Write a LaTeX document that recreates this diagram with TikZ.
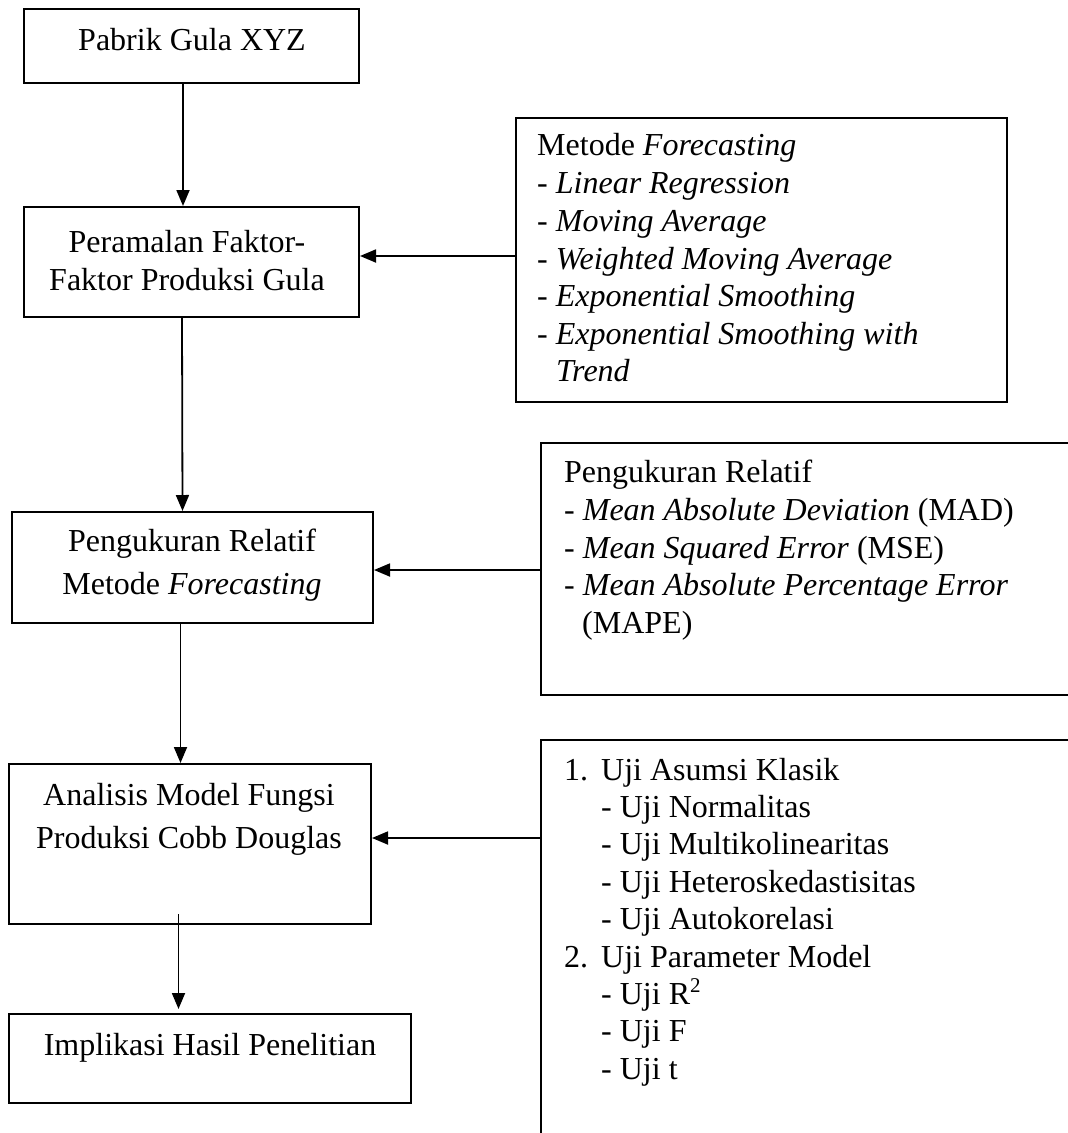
\documentclass[tikz,border=0pt]{standalone}
\usepackage{fontspec}
\setmainfont{Liberation Serif}
\usetikzlibrary{arrows.meta}
\begin{document}
\begin{tikzpicture}[x=1pt,y=-1pt,
  frame/.style={draw, line width=2pt, inner sep=0pt},
  txt/.style={inner sep=0pt, font=\fontsize{32}{38}\selectfont},
  lt/.style={txt, anchor=base west},
  ct/.style={txt, anchor=base},
  conn/.style={line width=1.8pt, -{Triangle[length=16pt,width=13pt]}},
]
\useasboundingbox (0,0) rectangle (1068,1133);
\clip (0,0) rectangle (1068,1133);
% frames
\node[frame, minimum width=335pt, minimum height=74pt]  (b1) at (191.5,46) {};
\node[frame, minimum width=335pt, minimum height=110pt] (b2) at (191.5,262) {};
\node[frame, minimum width=491pt, minimum height=284pt] (m1) at (761.5,260) {};
\node[frame, minimum width=361pt, minimum height=111pt] (b3) at (192.5,567.5) {};
\node[frame, minimum width=549pt, minimum height=252pt] (m2) at (815.5,569) {};
\node[frame, minimum width=362pt, minimum height=160pt] (b4) at (190,844) {};
\node[frame, minimum width=549pt, minimum height=420pt] (m3) at (815.5,950) {};
\node[frame, minimum width=402pt, minimum height=89pt]  (b5) at (210,1058.5) {};
% texts
\node[ct] (t1) at (192,50) {Pabrik Gula XYZ};
\node[ct] (t2a) at (187,252) {Peramalan Faktor-};
\node[ct] (t2b) at (187,290) {Faktor Produksi Gula};
\node[lt] (f0) at (537,155) {Metode \textit{Forecasting}};
\node[lt] (f1) at (537,193.3) {- \textit{Linear Regression}};
\node[lt] (f2) at (537,231) {- \textit{Moving Average}};
\node[lt] (f3) at (537,269) {- \textit{Weighted Moving Average}};
\node[lt] (f4) at (537,306.7) {- \textit{Exponential Smoothing}};
\node[lt] (f5) at (537,344.3) {- \textit{Exponential Smoothing with}};
\node[lt] (f6) at (556,381) {\textit{Trend}};
\node[ct] (t3a) at (192,551) {Pengukuran Relatif};
\node[ct] (t3b) at (192,594) {Metode \textit{Forecasting}};
\node[lt] (p0) at (564,482) {Pengukuran Relatif};
\node[lt] (p1) at (564,520) {- \textit{Mean Absolute Deviation} (MAD)};
\node[lt] (p2) at (564,558) {- \textit{Mean Squared Error} (MSE)};
\node[lt] (p3) at (564,595) {- \textit{Mean Absolute Percentage Error}};
\node[lt] (p4) at (582,633) {(MAPE)};
\node[ct] (t4a) at (189,805) {Analisis Model Fungsi};
\node[ct] (t4b) at (189,848) {Produksi Cobb Douglas};
\node[lt] (u0n) at (564,780) {1.};
\node[lt] (u0) at (601,780) {Uji Asumsi Klasik};
\node[lt] (u1) at (601,817.4) {- Uji Normalitas};
\node[lt] (u2) at (601,854.8) {- Uji Multikolinearitas};
\node[lt] (u3) at (601,892.2) {- Uji Heteroskedastisitas};
\node[lt] (u4) at (601,929.6) {- Uji Autokorelasi};
\node[lt] (u5n) at (564,967) {2.};
\node[lt] (u5) at (601,967) {Uji Parameter Model};
\node[lt] (u6) at (601,1004.4) {- Uji R\raisebox{11.5pt}{\fontsize{21}{21}\selectfont 2}};
\node[lt] (u7) at (601,1041.8) {- Uji F};
\node[lt] (u8) at (601,1079.2) {- Uji t};
\node[ct] (t5) at (210,1055) {Implikasi Hasil Penelitian};
% connectors
\draw[conn] ([xshift=-8.5pt]b1.south) -- ([xshift=-8.5pt]b2.north);
\draw[conn] ([xshift=-9.5pt]b2.south) -- ([xshift=-10pt]b3.north);
\draw[conn] ([xshift=-12pt]b3.south) -- ([xshift=-9.5pt]b4.north);
\draw[conn] ([xshift=-11.5pt,yshift=11pt]b4.south) -- ([xshift=-31.5pt,yshift=4pt]b5.north);
\draw[conn] ([yshift=4pt]m1.west) -- ([yshift=4pt]m1.west -| b2.east);
\draw[conn] ([yshift=-1pt]m2.west) -- ([yshift=-1pt]m2.west -| b3.east);
\draw[conn] ([yshift=6pt]b4.east -| m3.west) -- ([yshift=6pt]b4.east);
\end{tikzpicture}
\end{document}
